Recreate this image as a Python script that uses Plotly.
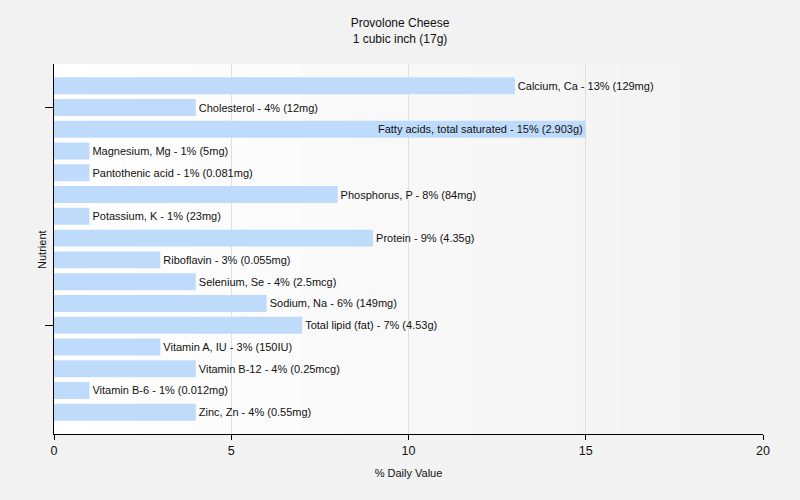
import plotly.graph_objects as go

nutrients = [
    "Calcium, Ca", "Cholesterol", "Fatty acids, total saturated", "Magnesium, Mg",
    "Pantothenic acid", "Phosphorus, P", "Potassium, K", "Protein", "Riboflavin",
    "Selenium, Se", "Sodium, Na", "Total lipid (fat)", "Vitamin A, IU",
    "Vitamin B-12", "Vitamin B-6", "Zinc, Zn",
]
daily_value = [13, 4, 15, 1, 1, 8, 1, 9, 3, 4, 6, 7, 3, 4, 1, 4]
amounts = [
    "129mg", "12mg", "2.903g", "5mg", "0.081mg", "84mg", "23mg", "4.35g", "0.055mg",
    "2.5mcg", "149mg", "4.53g", "150IU", "0.25mcg", "0.012mg", "0.55mg",
]
x_ticks = [0, 5, 10, 15, 20]

labels = [f"{n} - {v}% ({a})" for n, v, a in zip(nutrients, daily_value, amounts)]
positions = ["inside" if v >= 15 else "outside" for v in daily_value]

FONT = "Liberation Sans"
TS = 11
TXT = "#111"

fig = go.Figure()
fig.add_trace(go.Bar(
    x=daily_value, y=nutrients, orientation="h",
    text=labels, textposition=positions, insidetextanchor="end",
    textfont=dict(family=FONT, size=TS, color=TXT),
    outsidetextfont=dict(family=FONT, size=TS, color=TXT),
    insidetextfont=dict(family=FONT, size=TS, color=TXT),
    marker=dict(color="rgb(191,219,252)", line=dict(width=0)),
    width=0.78, cliponaxis=False, hoverinfo="skip",
))

# gradient background bands
shapes = []
nb = 60
for i in range(nb):
    c = round(255 - (255 - 242) * i / (nb - 1))
    shapes.append(dict(type="rect", xref="x domain", yref="y domain",
                       x0=i / nb, x1=(i + 1) / nb + 0.002, y0=0, y1=1,
                       fillcolor=f"rgb({c},{c},{c})", line=dict(width=0), layer="below"))

fig.update_layout(
    width=800, height=500,
    margin=dict(l=54, r=37, t=64, b=66),
    paper_bgcolor="#f2f2f2", plot_bgcolor="#f2f2f2",
    uniformtext=dict(minsize=TS, mode="show"),
    title=dict(text="Provolone Cheese<br>1 cubic inch (17g)", x=0.5, xanchor="center",
               y=0.946, yanchor="top", font=dict(family=FONT, size=12, color=TXT)),
    font=dict(family=FONT, size=11, color=TXT),
    showlegend=False, shapes=shapes,
    xaxis=dict(range=[0, 20], tickvals=x_ticks, showgrid=True, gridcolor="#e0e0e0",
               gridwidth=1, zeroline=False, showline=True, linecolor="black", linewidth=1,
               ticks="outside", ticklen=5, tickcolor="black",
               tickfont=dict(family=FONT, size=12.5, color=TXT),
               title=dict(text="% Daily Value", font=dict(family=FONT, size=11), standoff=12)),
    yaxis=dict(range=[16, -1], type="category", tickvals=[nutrients[1], nutrients[11]],
               showticklabels=False, showgrid=False, zeroline=False, showline=True,
               linecolor="black", linewidth=1, ticks="outside", ticklen=8, tickcolor="black"),
    annotations=[dict(text="Nutrient", xref="paper", yref="paper", x=-0.017, y=0.5,
                      xanchor="center", yanchor="middle", textangle=-90, showarrow=False,
                      font=dict(family=FONT, size=11, color=TXT))],
)

fig.write_html("out.html")
